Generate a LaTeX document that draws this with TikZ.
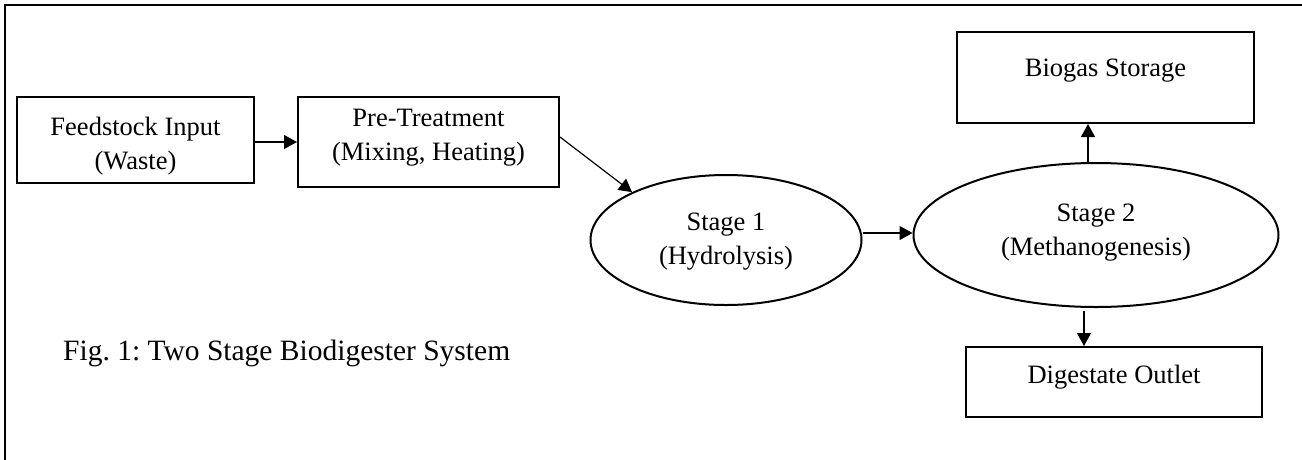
\documentclass[tikz,border=0pt]{standalone}
\usepackage{fontspec}
\setmainfont{Liberation Serif}
\usetikzlibrary{arrows.meta,shapes.geometric}
\begin{document}
\begin{tikzpicture}[x=1pt,y=-1pt,
  every node/.style={font=\fontsize{26.5}{34}\selectfont\frenchspacing, align=center, inner sep=0pt},
  boxnode/.style={draw, line width=2pt, rectangle},
  ellnode/.style={draw, line width=2pt, ellipse},
  arr/.style={line width=1.2pt, -{Triangle[length=13pt,width=14pt]}}]
\useasboundingbox (0,0) rectangle (1302,459);
\draw[line width=2pt] (1303,5) -- (5,5) -- (5,460);
\node[boxnode, minimum width=237pt, minimum height=86pt, text height=65.5pt, text depth=6pt] (feed) at (135.5,140) {Feedstock Input\\(Waste)};
\node[boxnode, minimum width=261pt, minimum height=90pt, text height=43.5pt, text depth=6pt] (pre) at (428.5,142) {Pre-Treatment\\(Mixing, Heating)};
\node[ellnode, minimum width=271pt, minimum height=130pt, text height=55.5pt, text depth=6pt] (s1) at (726,240) {Stage 1\\(Hydrolysis)};
\node[ellnode, minimum width=365pt, minimum height=144pt, text height=47.5pt, text depth=6pt] (s2) at (1096,235) {Stage 2\\(Methanogenesis)};
\node[boxnode, minimum width=297pt, minimum height=91pt, text height=18pt, text depth=19.5pt] (bio) at (1105.5,77.5) {Biogas Storage};
\node[boxnode, minimum width=296pt, minimum height=70pt, text height=18pt, text depth=14.5pt] (dig) at (1114,382) {Digestate Outlet};
\node[anchor=base west, font=\fontsize{29.5}{36}\selectfont\frenchspacing] (cap) at (63,360.5) {Fig. 1: Two Stage Biodigester System};
\draw[arr] (feed.east |- pre.west) -- (pre.west);
\draw[arr] ([yshift=5pt]pre.east) -- (s1.153);
\draw[arr] ([yshift=7pt]s1.east) -- ([yshift=7pt]s1.east -| s2.west);
\draw[arr] ([xshift=-8pt]s2.north) -- ([xshift=-8pt]s2.north |- bio.south);
\draw[arr] ([xshift=-12pt,yshift=-3pt]s2.south) -- ([xshift=-12pt]s2.south |- dig.north);
\end{tikzpicture}
\end{document}
